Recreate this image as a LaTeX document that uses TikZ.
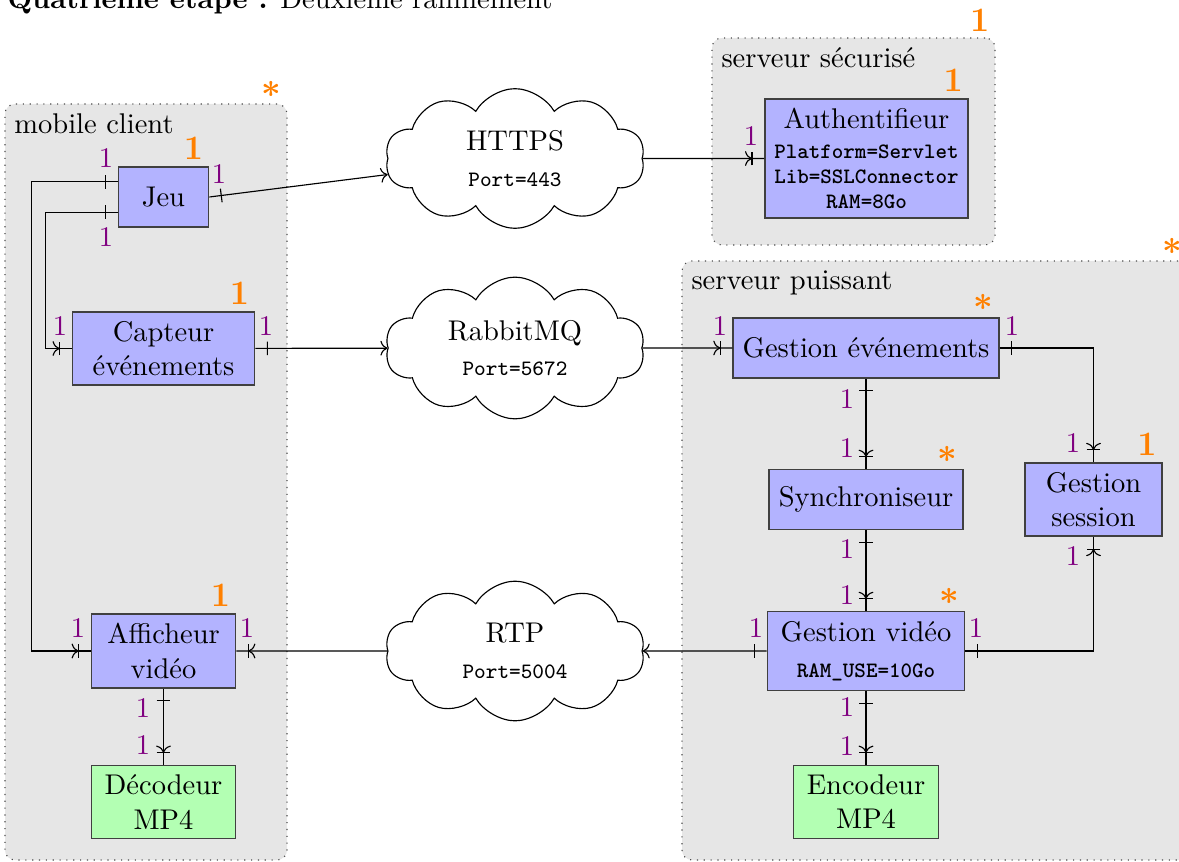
\documentclass[tikz,border=0pt]{standalone}
\usetikzlibrary{shapes.symbols, arrows.meta, positioning, fit, calc, decorations.markings}
\definecolor{CompBlue}{RGB}{179, 179, 255}
\definecolor{CodecGreen}{RGB}{179, 255, 179}
\definecolor{ClusterGray}{RGB}{230, 230, 230}
\definecolor{MultPurple}{RGB}{128, 0, 128}
\definecolor{CardOrange}{RGB}{255, 128, 0}
\newcommand{\attr}{\fontsize{7.7}{8.8}\selectfont\ttfamily\bfseries}
\newcommand{\porttt}{\fontsize{7.7}{8.8}\selectfont\ttfamily}

\tikzset{
  cluster/.style={draw=black!70, dotted, fill=ClusterGray, rounded corners=3.5pt, inner sep=0pt},
  cluster title/.style={anchor=north west, inner sep=3.33pt},
  comp/.style={draw=black!75, line width=0.6pt, fill=CompBlue, align=center, minimum height=21pt, inner sep=3.33pt},
  codec/.style={comp, fill=CodecGreen},
  net/.style={cloud, draw, cloud puffs=10, cloud puff arc=120, aspect=2, minimum width=91pt, minimum height=49pt, align=center, fill=white},
  card label/.style={anchor=south east, inner sep=2pt, text=CardOrange, font=\large\bfseries\boldmath},
  card/.style={label={[card label]north east:#1}},
  mult/.style={text=MultPurple, inner sep=0pt},
  tick start/.style={postaction={decorate, decoration={markings, mark=at position 4.2pt with {\draw[-] (0pt,-2.4pt) -- (0pt,2.4pt);}}}},
  tick end/.style={postaction={decorate, decoration={markings, mark=at position -4.2pt with {\arrow{>}\draw[-] (0pt,-2.4pt) -- (0pt,2.4pt);}}}}
}

\begin{document}
\begin{tikzpicture}[x=0.3509pt, y=-0.3509pt]
    \useasboundingbox (0,0) rectangle (1179,861);
    \node[anchor=base west, inner sep=0pt] (title) at (7,9) {\textbf{Quatrième étape :} Deuxième raffinement};

    % zones
    \node[cluster, fit={(5,104) (287,860)}, card=$*$] (mobile) {};
    \node[cluster title] (mobiletitle) at (mobile.north west) {mobile client};
    \node[cluster, fit={(712,38) (995,245)}, card=1] (secure) {};
    \node[cluster title] (securetitle) at (secure.north west) {serveur sécurisé};
    \node[cluster, fit={(682,261) (1188,860)}, card=$*$] (power) {};
    \node[cluster title] (powertitle) at (power.north west) {serveur puissant};

    % composants
    \node[comp, minimum width=31.6pt, card=1] (jeu) at (163.5,197) {Jeu};
    \node[comp, minimum width=63.9pt, card=1] (capteur) at (163.5,348.5) {Capteur\\événements};
    \node[comp, minimum width=50.5pt, card=1] (afficheur) at (163.5,651) {Afficheur\\vidéo};
    \node[codec, minimum width=50.5pt] (decodeur) at (163.5,802) {Décodeur\\MP4};
    \node[comp, card=1] (auth) at (866.5,158.5) {Authentifieur\\[-1.8pt]{\attr Platform=Servlet}\\[-3.2pt]{\attr Lib=SSLConnector}\\[-3.2pt]{\attr RAM=8Go}};
    \node[comp, card=$*$] (gevt) at (866,348) {Gestion événements};
    \node[comp, card=$*$] (sync) at (866,499.5) {Synchroniseur};
    \node[comp, minimum width=48.1pt, card=1] (session) at (1093.5,499.5) {Gestion\\session};
    \node[comp, minimum width=69.1pt, card=$*$] (gvid) at (866,651) {Gestion vidéo\\[0.7pt]{\attr RAM\_USE=10Go}};
    \node[codec, minimum width=50.9pt] (encodeur) at (866,802) {Encodeur\\MP4};

    % reseaux
    \node[net] (https) at (515,158.5) {HTTPS\\[0.4pt]{\porttt Port=443}};
    \node[net] (rabbit) at (515,348) {RabbitMQ\\[0.4pt]{\porttt Port=5672}};
    \node[net] (rtp) at (515,651) {RTP\\[0.4pt]{\porttt Port=5004}};

    % liens
    \draw[->, tick start] (jeu.east) -- (https);
    \draw[tick end] (https) -- (auth);
    \draw[tick start, tick end] ([yshift=5.3pt]jeu.west) -| ([xshift=-20.9pt]afficheur.west) -- (afficheur.west);
    \draw[tick start, tick end] ([yshift=-5.3pt]jeu.west) -| ([xshift=-9.3pt]capteur.west) -- (capteur.west);
    \draw[->, tick start] (capteur) -- (rabbit);
    \draw[tick end] (rabbit) -- (gevt);
    \draw[tick start, tick end] (gevt.east) -| (session.north);
    \draw[tick start, tick end] (gevt) -- (sync);
    \draw[tick start, tick end] (sync) -- (gvid);
    \draw[->, tick start] (gvid) -- (rtp);
    \draw[tick end] (rtp) -- (afficheur);
    \draw[tick start, tick end] (gvid.east) -| (session.south);
    \draw[tick start, tick end] (gvid) -- (encodeur);
    \draw[tick start, tick end] (afficheur) -- (decodeur);

    % multiplicites
    \foreach \mx/\my [count=\i] in {219/174, 751/136, 106/158, 106/237, 60/326, 266/326,
        78/628, 247/628, 143/708, 143/745, 720/326, 1012/326, 847/399, 847/448,
        1073/443, 847/549, 847/595, 756/628, 976/628, 1073/556, 847/707, 847/746}
      \node[mult] (m\i) at (\mx,\my) {1};
\end{tikzpicture}
\end{document}
